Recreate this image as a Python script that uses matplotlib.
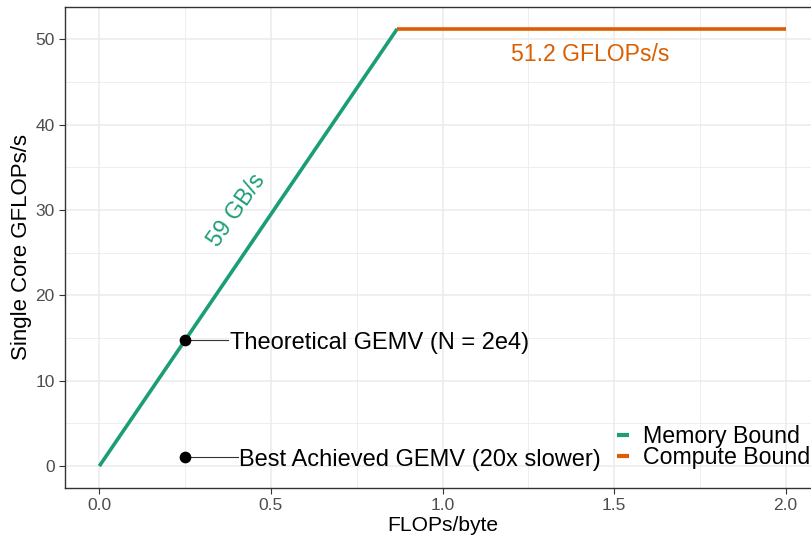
import numpy as np
import matplotlib.pyplot as plt
from matplotlib.ticker import MultipleLocator

plt.rcParams['font.family'] = ['Liberation Sans', 'DejaVu Sans']

# roofline data
peak_gflops = 51.2
bandwidth = 59.0
ridge_x = [0.0, 0.868]
ridge_y = [0.0, 51.2]
compute_x = [0.868, 2.0]
compute_y = [51.2, 51.2]
point_x = [0.25, 0.25]
point_y = [14.75, 1.05]
point_labels = ["Theoretical GEMV (N = 2e4)", "Best Achieved GEMV (20x slower)"]
label_x = [0.381, 0.408]

green = '#1B9E77'
orange = '#D95F02'

fig = plt.figure(figsize=(8.11, 5.39), dpi=100)
ax = fig.add_axes([65/811, 51/539, 755/811, 481/539])
ax.set_xlim(-0.1, 2.1)
ax.set_ylim(-2.56, 53.76)

ax.xaxis.set_major_locator(MultipleLocator(0.5))
ax.xaxis.set_minor_locator(MultipleLocator(0.25))
ax.yaxis.set_major_locator(MultipleLocator(10))
ax.yaxis.set_minor_locator(MultipleLocator(5))
ax.grid(True, which='major', color='#EBEBEB', linewidth=1.1, zorder=0)
ax.grid(True, which='minor', color='#EBEBEB', linewidth=0.6, zorder=0)
ax.set_axisbelow(True)
ax.xaxis.set_major_formatter(plt.FuncFormatter(lambda v, p: "{:.1f}".format(v)))
ax.tick_params(which='major', length=4, color='#333333', labelcolor='#4D4D4D', labelsize=12.5)
ax.tick_params(which='minor', length=0)
for s in ax.spines.values():
    s.set_color('#333333')
    s.set_linewidth(1.0)

ax.plot(ridge_x, ridge_y, color=green, linewidth=2.6, label='Memory Bound', solid_capstyle='butt', zorder=3)
ax.plot(compute_x, compute_y, color=orange, linewidth=2.6, label='Compute Bound', solid_capstyle='butt', zorder=3)

for px, py, lab, lx in zip(point_x, point_y, point_labels, label_x):
    ax.plot([px, lx - 0.005], [py, py], color='#333333', linewidth=0.8, zorder=3)
    ax.scatter([px], [py], s=55, color='black', zorder=4)
    ax.text(lx, py - 0.35, lab, fontsize=17, va='center', ha='left', color='black')

ax.text(1.43, 48.2, "{:.1f} GFLOPs/s".format(peak_gflops), color=orange, fontsize=16.6, ha='center', va='center')
ax.text(0.40, 30.0, "{:g} GB/s".format(bandwidth), color=green, fontsize=16.6, ha='center', va='center', rotation=55)

ax.set_xlabel("FLOPs/byte", fontsize=15.1, labelpad=2)
ax.set_ylabel("Single Core GFLOPs/s", fontsize=16, labelpad=2)

leg = fig.legend(loc='lower left', bbox_to_anchor=(617/811, 70/539), bbox_transform=fig.transFigure,
                 fontsize=16.7, frameon=False, handlelength=0.5, handletextpad=0.6,
                 labelspacing=-0.1, borderaxespad=0, borderpad=0)
for h in leg.get_lines():
    h.set_linewidth(3)

fig.savefig('out.png', dpi=100)
